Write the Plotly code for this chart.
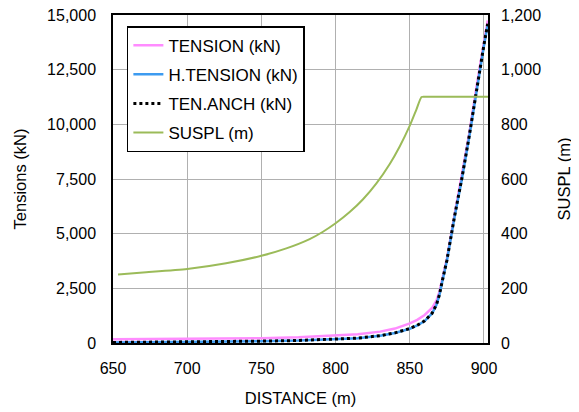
import plotly.graph_objects as go

# ---- data ----
distance_t = [650, 675, 700, 725, 750, 775, 800, 815, 830, 840, 850, 855, 860,
              865, 868, 870, 872, 875, 880, 885, 890, 895, 900, 902.5]
tension = [170, 175, 185, 200, 220, 260, 330, 400, 520, 660, 900, 1060, 1280,
           1600, 1950, 2350, 2950, 3850, 5800, 7600, 9550, 11750, 13800, 14750]
h_tension = [20, 28, 40, 55, 80, 110, 160, 220, 330, 460, 650, 800, 1000,
             1350, 1750, 2200, 2850, 3750, 5700, 7450, 9400, 11600, 13600, 14550]
ten_anch = [25, 33, 45, 60, 85, 115, 165, 225, 335, 465, 660, 810, 1010,
            1360, 1760, 2220, 2870, 3780, 5740, 7500, 9450, 11650, 13650, 14600]

distance_s = [653.4, 670.2, 700, 726.2, 750, 766.8, 782.5, 791.5, 800, 809.5,
              818.5, 827.5, 836.5, 843.2, 850, 854.5, 857.9, 860, 870, 902.7]
suspl = [251, 258, 270.7, 291.5, 319, 346, 380, 407, 438, 479,
         526, 584, 655, 719, 795, 855, 900, 901, 901, 901]

legend_labels = ["TENSION (kN)", "H.TENSION (kN)", "TEN.ANCH (kN)", "SUSPL (m)"]
x_ticks = [650, 700, 750, 800, 850, 900]

FONT = "Liberation Sans, Arial, sans-serif"
GRID = "#B0B0B0"

fig = go.Figure()

fig.add_trace(go.Scatter(
    x=distance_s, y=suspl, name=legend_labels[3], yaxis="y2", mode="lines",
    line=dict(color="#9BBB59", width=2, shape="spline", smoothing=0.6),
    legendrank=4, legendgroup="d"))
fig.add_trace(go.Scatter(
    x=distance_t, y=tension, name=legend_labels[0], mode="lines",
    line=dict(color="#FF8CFF", width=2.5), legendrank=1, legendgroup="a"))
fig.add_trace(go.Scatter(
    x=distance_t, y=h_tension, name=legend_labels[1], mode="lines",
    line=dict(color="#3D9BF0", width=2.5), legendrank=2, legendgroup="b"))
fig.add_trace(go.Scatter(
    x=distance_t, y=ten_anch, name=legend_labels[2], mode="lines",
    line=dict(color="black", width=3, dash="dot"), legendrank=3, legendgroup="c"))

# The page body adds an 8px offset; the figure is sized to end at the window edge.
fig.update_layout(
    width=571, height=404,
    margin=dict(l=105, r=91, t=7, b=69, autoexpand=False),
    paper_bgcolor="white", plot_bgcolor="white",
    font=dict(family=FONT, size=16, color="black"),
    showlegend=True,
    legend=dict(
        x=0.037, y=0.966, xanchor="left", yanchor="top",
        bgcolor="white", bordercolor="black", borderwidth=1.5,
        font=dict(family=FONT, size=17), tracegroupgap=4,
    ),
    xaxis=dict(
        range=[650, 902.7], tickvals=x_ticks, showgrid=True,
        gridcolor=GRID, gridwidth=1, automargin=False,
        showline=True, linecolor="black", linewidth=1.5, mirror=True,
        ticks="", ticklabelstandoff=10, zeroline=False,
        ticklabeloverflow="allow",
        title=dict(text="DISTANCE (m)", standoff=16, font=dict(size=16.5)),
    ),
    yaxis=dict(
        range=[0, 15000], dtick=2500, tickformat=",d", showgrid=True,
        gridcolor=GRID, gridwidth=1, automargin=False,
        showline=True, linecolor="black", linewidth=1.5, mirror=True,
        ticks="", ticklabelstandoff=12, zeroline=False,
        ticklabeloverflow="allow",
        title=dict(text="Tensions (kN)", standoff=16, font=dict(size=16.5)),
    ),
    yaxis2=dict(
        range=[0, 1200], dtick=200, tickformat=",d", overlaying="y",
        side="right", showgrid=False, zeroline=False, automargin=False,
        showline=False, ticks="", ticklabelstandoff=12,
        ticklabeloverflow="allow",
        title=dict(text="SUSPL (m)", standoff=18, font=dict(size=16.5)),
    ),
)

fig.write_html("out.html")
